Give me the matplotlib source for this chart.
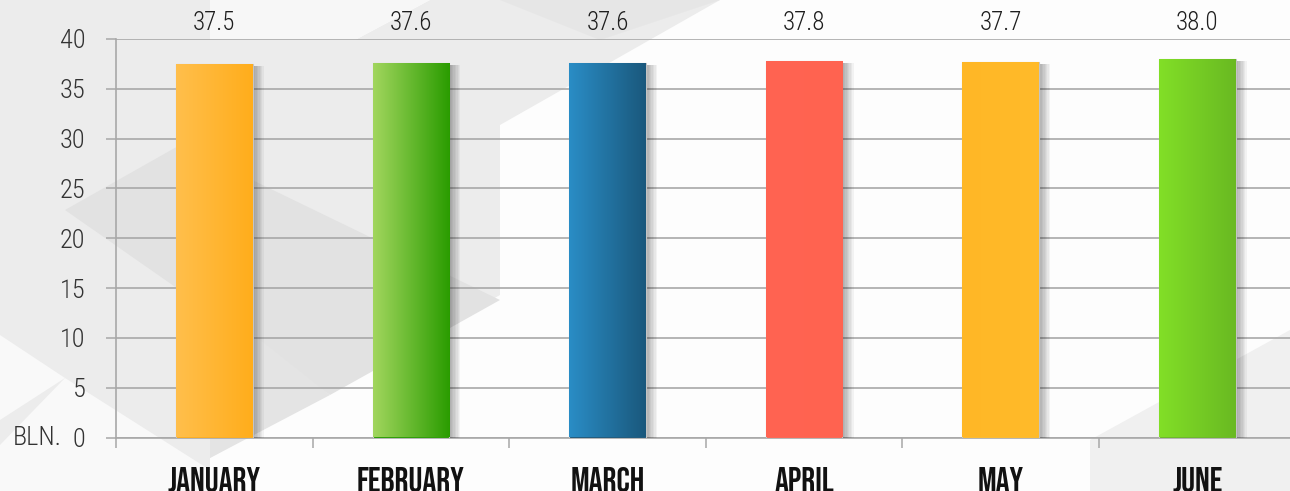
import matplotlib
matplotlib.use("Agg")
import matplotlib.pyplot as plt
import matplotlib.patheffects as pe
from matplotlib.colors import LinearSegmentedColormap
from matplotlib.patches import Polygon
import numpy as np

# monthly values, billions
months = ["JANUARY", "FEBRUARY", "MARCH", "APRIL", "MAY", "JUNE"]
values = [37.5, 37.6, 37.6, 37.8, 37.7, 38.0]
value_labels = ["37.5", "37.6", "37.6", "37.8", "37.7", "38.0"]
yticks = [0, 5, 10, 15, 20, 25, 30, 35, 40]

# left -> right gradient of each bar
bar_colors = [("#ffbf4c", "#ffad1b"),
              ("#a2d65e", "#2a9c00"),
              ("#2a8dc6", "#1a587c"),
              ("#ff6452", "#ff6350"),
              ("#ffb726", "#ffbb2a"),
              ("#82df27", "#69b922")]

W, H = 1290, 491
fig = plt.figure(figsize=(W / 100, H / 100), dpi=100)
fig.patch.set_facecolor("#fdfdfd")


def px(pts):
    return [(x / W, 1 - y / H) for x, y in pts]


# background triangles
bg = [
    ([(0, 0), (210, 0), (210, 40), (355, 40), (430, 0), (720, 0), (500, 125),
      (500, 295), (210, 458), (210, 491), (0, 491)], "#ececec"),
    ([(210, 0), (430, 0), (355, 40), (210, 40)], "#f7f7f7"),
    ([(65, 210), (180, 145), (500, 300), (330, 395)], "#e2e2e2"),
    ([(210, 300), (330, 395), (210, 458)], "#e4e4e4"),
    ([(0, 335), (65, 378), (0, 420)], "#f9f9f9"),
    ([(0, 445), (65, 378), (210, 470), (210, 491), (0, 491)], "#f9f9f9"),
    ([(500, 0), (720, 0), (600, 40)], "#e6e6e6"),
    ([(1290, 330), (1090, 440), (1090, 491), (1290, 491)], "#f0f0f0"),
]
for pts, c in bg:
    fig.add_artist(Polygon(px(pts), closed=True, facecolor=c, edgecolor="none",
                           transform=fig.transFigure, zorder=-5))

ax = fig.add_axes([116 / W, (H - 437.5) / H, 1179.6 / W, 398.5 / H])
ax.set_facecolor("none")

x = np.arange(len(months))
shadow = [pe.SimplePatchShadow(offset=(i, -1.5), shadow_rgbFace="#000000", alpha=0.045)
          for i in range(1, 9)]
bars = ax.bar(x, values, width=0.39, color=[c[1] for c in bar_colors],
              edgecolor="#c4c4c4", linewidth=0.8, zorder=3,
              path_effects=shadow + [pe.Normal()])

grad = np.linspace(0, 1, 256).reshape(1, -1)
for b, (c0, c1) in zip(bars, bar_colors):
    cmap = LinearSegmentedColormap.from_list("g", [c0, c1])
    bx, bw, bh = b.get_x(), b.get_width(), b.get_height()
    im = ax.imshow(grad, cmap=cmap, extent=[bx, bx + bw, 0, bh], aspect="auto",
                   zorder=3.5, interpolation="bilinear")
    im.set_clip_path(b)

for xi, lab in zip(x, value_labels):
    ax.text(xi, 40.4, lab, ha="center", va="bottom", fontsize=18,
            family="Roboto Condensed", weight=300, color="#1e1e1e", clip_on=False)

ax.set_xlim(-0.5, len(months) - 0.5)
ax.set_ylim(0, 40)
ax.set_yticks(yticks)
ax.set_yticklabels([str(t) for t in yticks], family="Roboto Condensed", weight=300,
                   fontsize=19, color="#333333")
ax.set_xticks(x)
ax.set_xticklabels(months, family="Bebas Neue", fontsize=25, color="#111111")
ax.set_xticks(np.arange(len(months) + 1) - 0.5, minor=True)
ax.tick_params(axis="x", which="major", length=0, pad=21)
ax.tick_params(axis="x", which="minor", length=7, color="#a8a8a8", width=1.1)
ax.tick_params(axis="y", length=7, color="#a8a8a8", width=1.1, pad=15)

ax.grid(axis="y", color="#a8a8a8", linewidth=1.2, zorder=1)
ax.set_axisbelow(True)
for s in ["top", "right"]:
    ax.spines[s].set_visible(False)
for s in ["left", "bottom"]:
    ax.spines[s].set_color("#a8a8a8")
    ax.spines[s].set_linewidth(1.2)

fig.text(13 / W, 1 - 438 / H, "BLN.", family="Roboto Condensed", weight=300,
         fontsize=19, color="#333333", ha="left", va="center")

fig.savefig("out.png", dpi=100)
